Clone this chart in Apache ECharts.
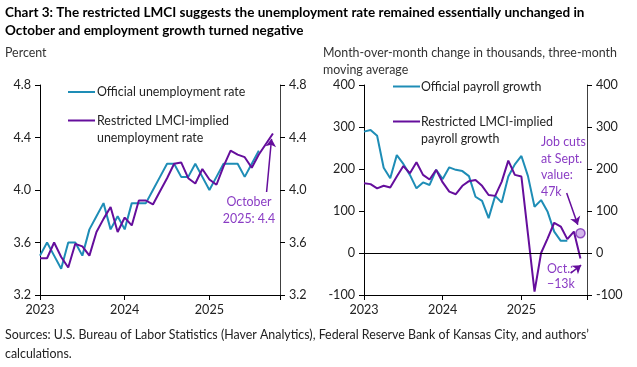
<!DOCTYPE html>
<html><head><meta charset="utf-8">
<script src="https://cdn.jsdelivr.net/npm/echarts@6/dist/echarts.min.js"></script>
<style>html,body{margin:0;padding:0;background:#fff}#c{width:637px;height:367px}</style>
</head><body><div id="c"></div>
<script>
// Month positions: 0 = Jan 2023 ... 34 = Nov 2025
const months = [];
for (let y = 2023; y <= 2025; y++) for (let m = 1; m <= 12; m++) months.push(y + '-' + String(m).padStart(2, '0'));
const yearTicks = ['2023', '2024', '2025'];

// Left panel: unemployment rate (percent)
const urOfficial = [3.5,3.6,3.5,3.4,3.6,3.6,3.5,3.7,3.8,3.9,3.7,3.8,
                    3.7,3.9,3.9,3.9,4.0,4.1,4.2,4.2,4.1,4.1,4.2,4.1,
                    4.0,4.1,4.2,4.2,4.2,4.1,4.2,4.3];
const urLmci = [3.48,3.48,3.60,3.49,3.41,3.59,3.57,3.50,3.68,3.78,3.87,3.68,
                3.79,3.73,3.92,3.92,3.89,3.99,4.09,4.20,4.21,4.09,4.05,4.16,
                4.08,4.04,4.18,4.30,4.27,4.25,4.17,4.27,4.35,4.43];

// Right panel: payroll growth, thousands, 3-month moving average
const payOfficial = [289,293,279,203,178,233,212,186,154,168,162,198,
                     176,204,198,195,183,134,124,83,136,120,182,211,
                     231,183,110,126,98,51,29,29];
const payLmci = [166,164,154,160,156,182,207,190,216,186,175,198,
                 168,146,140,160,171,174,160,138,136,170,220,186,
                 182,45,-92,0,35,72,63,33,51,-13];
const jobCutsPoint = [33, 47];

const leftTicks = [3.2, 4.8, 0.4];
const rightTicks = [-100, 400, 100];

const CYAN = '#1E8DB6';
const PURPLE = '#650E9C';
const ANNO = '#8A3CC4';
const FONT = 'Lato, "Open Sans", sans-serif';
const FS = 12.4;
const AFS = 12.6;

const pairs = arr => arr.map((v, i) => [i, v]);

function xAx(gi) {
  return {
    gridIndex: gi, type: 'value', min: 0, max: 34, interval: 12,
    axisLine: { onZero: false, lineStyle: { color: '#000', width: 1 } },
    axisTick: { show: true, inside: false, length: 5, lineStyle: { color: '#000' } },
    axisLabel: { formatter: v => yearTicks[v / 12] || '', color: '#222', fontSize: AFS, fontFamily: FONT, margin: 8 },
    splitLine: { show: false }
  };
}
function yAx(gi, t, pos, dec) {
  return {
    gridIndex: gi, type: 'value', position: pos, min: t[0], max: t[1], interval: t[2],
    axisLine: { show: true, lineStyle: { color: pos === 'left' ? '#000' : '#404040', width: 1 } },
    axisTick: { show: true, inside: false, length: 5, lineStyle: { color: '#000' } },
    axisLabel: { formatter: v => dec ? v.toFixed(1) : String(Math.round(v)), color: '#222', fontSize: AFS, fontFamily: FONT, margin: 9 },
    splitLine: { show: false }
  };
}

const arrowLine = (a, b) => [{ coord: a }, { coord: b }];

const chart = echarts.init(document.getElementById('c'), null, { renderer: 'canvas' });
chart.setOption({
  animation: false,
  grid: [
    { left: 40, right: 357, top: 85, bottom: 72 },
    { left: 364, right: 50, top: 85, bottom: 72 }
  ],
  xAxis: [xAx(0), xAx(1)],
  yAxis: [yAx(0, leftTicks, 'left', true), yAx(0, leftTicks, 'right', true),
          yAx(1, rightTicks, 'left', false), yAx(1, rightTicks, 'right', false)],
  series: [
    { type: 'line', xAxisIndex: 0, yAxisIndex: 0, data: pairs(urOfficial), symbol: 'none',
      lineStyle: { color: CYAN, width: 2 }, z: 2 },
    { type: 'line', xAxisIndex: 0, yAxisIndex: 0, data: pairs(urLmci), symbol: 'none',
      lineStyle: { color: PURPLE, width: 2 }, z: 3,
      markLine: { silent: true, symbol: ['none', 'arrow'], symbolSize: 8, label: { show: false },
        lineStyle: { color: PURPLE, width: 1.5, type: 'solid' },
        data: [arrowLine([32.1, 3.985], [32.8, 4.39])] } },
    { type: 'line', xAxisIndex: 1, yAxisIndex: 2, data: pairs(payOfficial), symbol: 'none',
      lineStyle: { color: CYAN, width: 2 }, z: 2,
      markLine: { silent: true, symbol: 'none', label: { show: false },
        lineStyle: { color: '#000', width: 1, type: 'solid' }, data: [{ yAxis: 0 }] } },
    { type: 'line', xAxisIndex: 1, yAxisIndex: 2, data: pairs(payLmci), symbol: 'none',
      lineStyle: { color: PURPLE, width: 2 }, z: 3,
      markLine: { silent: true, symbol: ['none', 'arrow'], symbolSize: 8, label: { show: false },
        lineStyle: { color: PURPLE, width: 1.5, type: 'solid' },
        data: [arrowLine([30.9, 143], [32.6, 67]), arrowLine([31.5, -48], [33.1, -29])] } },
    { type: 'scatter', xAxisIndex: 1, yAxisIndex: 2, data: [jobCutsPoint], symbol: 'circle', symbolSize: 9,
      itemStyle: { color: '#C8A2E6', borderColor: '#7A2BB5', borderWidth: 1.5 }, z: 4 }
  ],
  graphic: [
    { type: 'text', left: 5, top: 4, style: { text: 'Chart 3: The restricted LMCI suggests the unemployment rate remained essentially unchanged in\nOctober and employment growth turned negative',
      font: 'bold 13.5px ' + FONT, fill: '#000', lineHeight: 18 } },
    { type: 'text', left: 5, top: 44, style: { text: 'Percent', font: FS + 'px ' + FONT, fill: '#333', lineHeight: 18 } },
    { type: 'text', left: 323, top: 44, style: { text: 'Month-over-month change in thousands, three-month\nmoving average', font: FS + 'px ' + FONT, fill: '#333', lineHeight: 17.5 } },
    // left legend
    { type: 'line', shape: { x1: 68, y1: 92, x2: 95, y2: 92 }, style: { stroke: CYAN, lineWidth: 2 } },
    { type: 'text', x: 97, y: 92, style: { text: 'Official unemployment rate', font: FS + 'px ' + FONT, fill: '#222', verticalAlign: 'middle' } },
    { type: 'line', shape: { x1: 68, y1: 120.5, x2: 95, y2: 120.5 }, style: { stroke: PURPLE, lineWidth: 2 } },
    { type: 'text', x: 97, y: 112, style: { text: 'Restricted LMCI-implied\nunemployment rate', font: FS + 'px ' + FONT, fill: '#222', lineHeight: 17 } },
    // right legend
    { type: 'line', shape: { x1: 393, y1: 86.5, x2: 420, y2: 86.5 }, style: { stroke: CYAN, lineWidth: 2 } },
    { type: 'text', x: 421, y: 86.5, style: { text: 'Official payroll growth', font: FS + 'px ' + FONT, fill: '#222', verticalAlign: 'middle' } },
    { type: 'line', shape: { x1: 393, y1: 121.5, x2: 420, y2: 121.5 }, style: { stroke: PURPLE, lineWidth: 2 } },
    { type: 'text', x: 421, y: 113, style: { text: 'Restricted LMCI-implied\npayroll growth', font: FS + 'px ' + FONT, fill: '#222', lineHeight: 17 } },
    // annotations
    { type: 'text', x: 249, y: 193, style: { text: 'October\n2025: 4.4', font: FS + 'px ' + FONT, fill: ANNO, align: 'center', lineHeight: 17 } },
    { type: 'text', x: 541, y: 134, style: { text: 'Job cuts\nat Sept.\nvalue:\n47k', font: FS + 'px ' + FONT, fill: ANNO, lineHeight: 16.5 } },
    { type: 'text', x: 547, y: 261, style: { text: 'Oct.:\n\u221213k', font: FS + 'px ' + FONT, fill: ANNO, lineHeight: 15 } },
    // footer
    { type: 'text', left: 5, top: 325, style: { text: 'Sources: U.S. Bureau of Labor Statistics (Haver Analytics), Federal Reserve Bank of Kansas City, and authors\u2019\ncalculations.',
      font: FS + 'px ' + FONT, fill: '#222', lineHeight: 19 } }
  ]
});
</script></body></html>
